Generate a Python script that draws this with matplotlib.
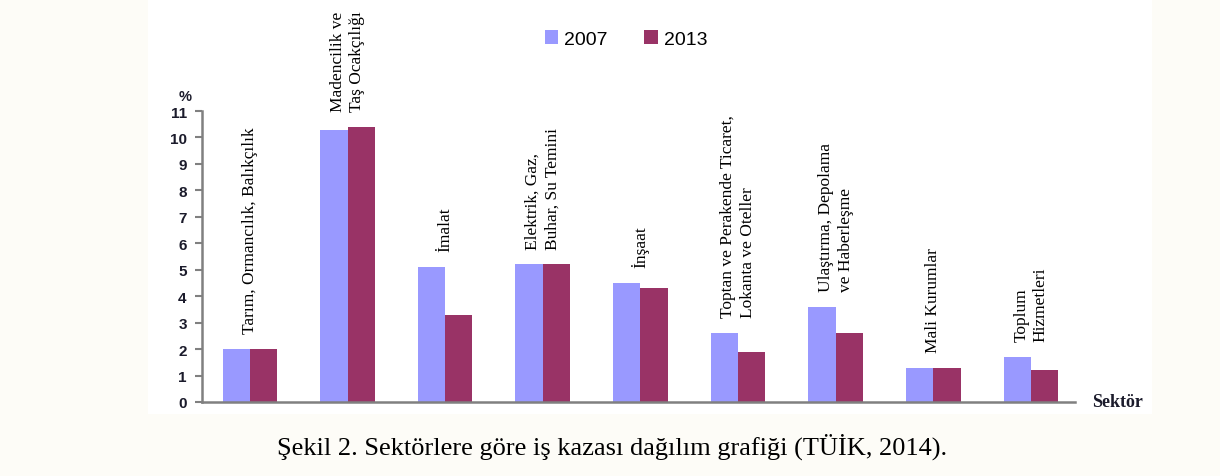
import matplotlib
matplotlib.use("Agg")
import matplotlib.pyplot as plt
import numpy as np
from matplotlib.patches import Rectangle

# ─── Data ─────────────────────────────────────────────────────────────────────

SECTORS = [
    "Tarım, Ormancılık, Balıkçılık",
    "Madencilik ve\nTaş Ocakçılığı",
    "İmalat",
    "Elektrik, Gaz,\nBuhar, Su Temini",
    "İnşaat",
    "Toptan ve Perakende Ticaret,\nLokanta ve Oteller",
    "Ulaştırma, Depolama\nve Haberleşme",
    "Mali Kurumlar",
    "Toplum\nHizmetleri",
]
Y2007 = [2.0, 10.3, 5.1, 5.2, 4.5, 2.6, 3.6, 1.3, 1.7]
Y2013 = [2.0, 10.4, 3.3, 5.2, 4.3, 1.9, 2.6, 1.3, 1.2]
YTICKS = list(range(0, 12))

C2007 = "#9999FF"
C2013 = "#993366"
AXIS_GRAY = "#808080"
BG = "#FDFCF7"
SERIF = ["Liberation Serif", "DejaVu Serif"]
SANS = ["Liberation Sans", "DejaVu Sans"]

# ─── Figure ───────────────────────────────────────────────────────────────────

fig = plt.figure(figsize=(12.2, 4.77), dpi=100, facecolor=BG)
fig.patches.append(Rectangle((148 / 1220, 1 - 415 / 477), (1152 - 148) / 1220, 415 / 477,
                             transform=fig.transFigure, facecolor="white",
                             edgecolor="none", zorder=-5))

ax = fig.add_axes([202 / 1220, 1 - 403 / 477, (1075 - 202) / 1220, (403 - 112) / 477])
ax.set_facecolor("none")

x = np.arange(len(SECTORS))
w = 0.28
ax.bar(x - w / 2, Y2007, width=w, color=C2007, label="2007", zorder=2)
ax.bar(x + w / 2, Y2013, width=w, color=C2013, label="2013", zorder=2)

ax.set_xlim(-0.49, 8.45)
ax.set_ylim(0, 11)
ax.set_yticks(YTICKS)
ax.set_xticks([])
ax.tick_params(axis="y", direction="out", length=5, width=1.5, color=AXIS_GRAY,
               labelsize=11, pad=6)
for lab in ax.get_yticklabels():
    lab.set_fontweight("bold")
    lab.set_family(SANS)
    lab.set_color("#1b1b2b")

for s in ["top", "right"]:
    ax.spines[s].set_visible(False)
for s in ["left", "bottom"]:
    ax.spines[s].set_color(AXIS_GRAY)
    ax.spines[s].set_linewidth(1.8)

# category labels above bars
for xi, name, a, b in zip(x, SECTORS, Y2007, Y2013):
    ax.text(xi, max(a, b) + 0.6, name, rotation=90, ha="center", va="bottom",
            multialignment="left", family=SERIF, fontsize=12.5,
            linespacing=1.3, clip_on=False)

ax.text(-0.66, 11.3, "%", fontsize=10.5, fontweight="bold", family=SANS,
        ha="center", va="bottom", color="#1b1b2b", clip_on=False)
ax.text(8.62, 0, "Sektör", fontsize=13, fontweight="bold", family=SERIF,
        ha="left", va="center", color="#1b1b2b", clip_on=False)

leg = fig.legend(loc="center", bbox_to_anchor=(626 / 1220, 1 - 40 / 477), ncol=2,
                 frameon=False, prop={"family": SANS, "size": 14},
                 handlelength=0.7, handleheight=0.7, handletextpad=0.3,
                 columnspacing=1.9)

fig.text(612 / 1220, 1 - 447 / 477,
         "Şekil 2. Sektörlere göre iş kazası dağılım grafiği (TÜİK, 2014).",
         ha="center", va="center", family=SERIF, fontsize=19)

plt.savefig("out.png", dpi=100, facecolor=BG)
plt.close()
